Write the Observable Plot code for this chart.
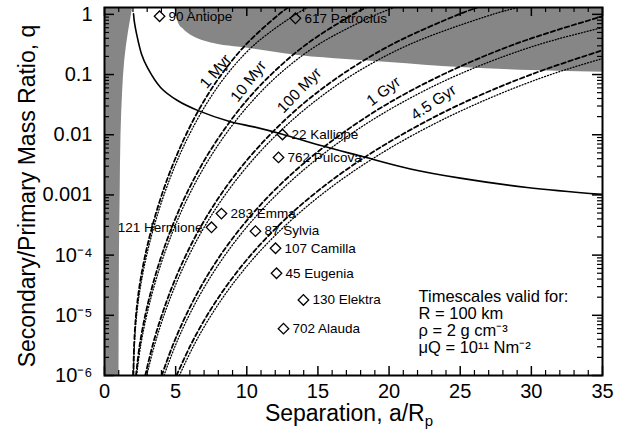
<!DOCTYPE html>
<html>
<head>
<meta charset="utf-8">
<script src="https://cdn.jsdelivr.net/npm/d3@7"></script>
<script src="https://cdn.jsdelivr.net/npm/@observablehq/plot@0.6"></script>
<style>
html,body{margin:0;padding:0;background:#fff;}
#chart svg{display:block;}
</style>
</head>
<body>
<div id="chart"></div>
<script>
// ---------------- data ----------------
const qGrid = [1e-6, 3.16e-6, 1e-5, 3.16e-5, 1e-4, 3.16e-4, 1e-3, 3.16e-3, 0.01, 0.0316, 0.1, 0.316, 1, 1.3];

const timescaleNames = ["1 Myr", "10 Myr", "100 Myr", "1 Gyr", "4.5 Gyr"];

// separation a/Rp of each curve at the q values of qGrid
const dashed1Myr   = [2.028, 2.081, 2.213, 2.469, 2.863, 3.381, 4.022, 4.797, 5.728, 6.837, 8.216, 9.944, 12.259, 12.902];
const dashed10Myr  = [2.213, 2.469, 2.863, 3.381, 4.022, 4.796, 5.724, 6.832, 8.162, 9.743, 11.708, 14.171, 17.471, 18.387];
const dashed100Myr = [2.863, 3.381, 4.022, 4.796, 5.724, 6.832, 8.156, 9.736, 11.632, 13.885, 16.686, 20.195, 24.897, 26.203];
const dashed1Gyr   = [4.022, 4.796, 5.724, 6.832, 8.156, 9.736, 11.623, 13.878, 16.576, 19.788, 23.779, 28.780, 35.481, 37.34];
const dashed4_5Gyr = [5.063, 6.043, 7.213, 8.610, 10.279, 12.271, 14.650, 17.491, 20.891, 24.939, 29.969, 36.273];

const dotted1Myr   = [2.035, 2.101, 2.256, 2.543, 2.964, 3.509, 4.178, 4.985, 5.956, 7.132, 8.598, 10.552, 13.434, 14.291];
const dotted10Myr  = [2.256, 2.543, 2.964, 3.509, 4.178, 4.983, 5.947, 7.102, 8.487, 10.164, 12.253, 15.037, 19.146, 20.367];
const dotted100Myr = [2.964, 3.509, 4.178, 4.983, 5.947, 7.098, 8.475, 10.12, 12.094, 14.484, 17.462, 21.431, 27.284, 29.03];
const dotted1Gyr   = [4.178, 4.983, 5.947, 7.098, 8.473, 10.116, 12.077, 14.422, 17.235, 20.642, 24.886, 30.540, 38.882];
const dotted4_5Gyr = [5.260, 6.278, 7.494, 8.946, 10.679, 12.749, 15.222, 18.177, 21.722, 26.015, 31.364, 38.49];

// grey region on the left (contact)
const leftBoundQ   = [1e-6, 1e-4, 1e-3, 0.01, 0.05, 0.17, 0.5, 1, 1.3];
const leftBoundSep = [1.02, 1.05, 1.1, 1.16, 1.27, 1.42, 1.68, 1.9, 1.97];

// grey region at the top right
const topBoundSep = [4.95, 5.05, 5.2, 5.5, 5.85, 6.3, 7, 8, 9.5, 11.5, 13.8, 17, 20, 25, 30, 35];
const topBoundQ   = [1.3, 0.95, 0.72, 0.58, 0.49, 0.42, 0.36, 0.315, 0.283, 0.245, 0.205, 0.178, 0.159, 0.131, 0.117, 0.109];

// solid curve
const solidSep = [2.04, 2.1, 2.25, 2.6, 3.02, 3.94, 5.13, 6.54, 8.85, 10.5, 12.5, 15, 18.2, 21.5, 25, 29.7, 35];
const solidQ   = [1.02, 0.75, 0.48, 0.22, 0.13, 0.061, 0.037, 0.0254, 0.0165, 0.0135, 0.0102, 0.0068, 0.0043, 0.0027, 0.0019, 0.00133, 0.00102];

// binary asteroids
const asteroidNames = ["90 Antiope", "617 Patroclus", "22 Kalliope", "762 Pulcova", "283 Emma", "121 Hermione", "87 Sylvia", "107 Camilla", "45 Eugenia", "130 Elektra", "702 Alauda"];
const asteroidSep   = [3.87, 13.42, 12.51, 12.23, 8.22, 7.52, 10.61, 12.02, 12.09, 13.98, 12.58];
const asteroidQ     = [0.93, 0.86, 0.0101, 0.0042, 4.9e-4, 2.9e-4, 2.5e-4, 1.3e-4, 5.0e-5, 1.8e-5, 6.0e-6];

// timescale label anchors
const labelSep   = [7.80, 10.12, 13.70, 19.61, 23.12];
const labelQ     = [0.113, 0.0771, 0.0546, 0.0525, 0.0345];
const labelAngle = [-50, -52, -46, -37, -34];

// axes
const xMajor = [0, 5, 10, 15, 20, 25, 30, 35];
const yMajor = [1e-6, 1e-5, 1e-4, 1e-3, 1e-2, 1e-1, 1];
const yTickLabels = ["10\u207B\u2076", "10\u207B\u2075", "10\u207B\u2074", "0.001", "0.01", "0.1", "1"];
const infoLines = ["Timescales valid for:", "R = 100 km", "\u03C1 = 2 g cm\u207B\u00B3", "\u03BCQ = 10\u00B9\u00B9 Nm\u207B\u00B2"];

// ---------------- build tables ----------------
const dashedSets = [dashed1Myr, dashed10Myr, dashed100Myr, dashed1Gyr, dashed4_5Gyr];
const dottedSets = [dotted1Myr, dotted10Myr, dotted100Myr, dotted1Gyr, dotted4_5Gyr];
const toRows = (sets) => sets.flatMap((arr, k) => arr.map((x, i) => ({x, q: qGrid[i], id: timescaleNames[k]})));
const dashedRows = toRows(dashedSets);
const dottedRows = toRows(dottedSets);
const leftRows = leftBoundQ.map((q, i) => ({q, x: leftBoundSep[i]}));
const topRows = topBoundSep.map((x, i) => ({x, q: topBoundQ[i]}));
const solidRows = solidSep.map((x, i) => ({x, q: solidQ[i]}));
const astRows = asteroidNames.map((name, i) => ({name, x: asteroidSep[i], q: asteroidQ[i]}));
const labelRows = timescaleNames.map((name, i) => ({name, x: labelSep[i], q: labelQ[i], a: labelAngle[i]}));
const xMinor = d3.range(0, 36).filter(v => v % 5 !== 0);
const yMinor = [];
for (let e = -6; e <= 0; e++) for (let m = 2; m <= 9; m++) { const v = m * Math.pow(10, e); if (v <= 1.3) yMinor.push(v); }
const yLabelMap = new Map(yMajor.map((v, i) => [v, yTickLabels[i]]));

const W = 627, H = 433, mL = 104, mR = 25, mT = 7, mB = 58;
const fw = W - mL - mR, fh = H - mT - mB;
const grey = "#868686";
const FONT = "Liberation Sans";

const chart = Plot.plot({
  width: W, height: H,
  marginLeft: mL, marginRight: mR, marginTop: mT, marginBottom: mB,
  style: {fontFamily: FONT, fontSize: "20px", background: "white", color: "black", overflow: "visible"},
  x: {domain: [0, 35]},
  y: {type: "log", domain: [1e-6, 1.3]},
  marks: [
    Plot.areaX(leftRows, {y: "q", x1: d => 0, x2: "x", fill: grey, curve: "monotone-y"}),
    Plot.areaY(topRows, {x: "x", y1: "q", y2: d => 1.3, fill: grey, curve: "monotone-x"}),
    Plot.line(dashedRows, {x: "x", y: "q", z: "id", stroke: "black", strokeWidth: 1.8, strokeDasharray: "4.5,2.8", curve: "catmull-rom", clip: true}),
    Plot.line(dottedRows, {x: "x", y: "q", z: "id", stroke: "black", strokeWidth: 1.3, strokeDasharray: "1,2", curve: "catmull-rom", clip: true}),
    Plot.line(solidRows, {x: "x", y: "q", stroke: "black", strokeWidth: 1.6, curve: "catmull-rom", clip: true}),
    // ticks (inward, on all four sides)
    Plot.tickX(xMajor, {x: d => d, insetTop: fh - 9, strokeWidth: 1.5}),
    Plot.tickX(xMinor, {x: d => d, insetTop: fh - 5, strokeWidth: 1.2}),
    Plot.tickX(xMajor, {x: d => d, insetBottom: fh - 9, strokeWidth: 1.5}),
    Plot.tickX(xMinor, {x: d => d, insetBottom: fh - 5, strokeWidth: 1.2}),
    Plot.tickY(yMajor, {y: d => d, insetRight: fw - 10, strokeWidth: 1.5}),
    Plot.tickY(yMinor, {y: d => d, insetRight: fw - 5, strokeWidth: 1.2}),
    Plot.tickY(yMajor, {y: d => d, insetLeft: fw - 10, strokeWidth: 1.5}),
    Plot.tickY(yMinor, {y: d => d, insetLeft: fw - 5, strokeWidth: 1.2}),
    Plot.frame({stroke: "black", strokeWidth: 2}),
    Plot.axisX({ticks: xMajor, tickSize: 0, tickPadding: 8, tickFormat: d => String(d), label: null, fontSize: 20}),
    Plot.axisY({ticks: yMajor, tickSize: 0, tickPadding: 12, tickFormat: d => yLabelMap.get(d), label: null, fontSize: 20}),
    // asteroids
    Plot.dot(astRows, {x: "x", y: "q", symbol: "square", r: 4.2, rotate: 45, stroke: "black", fill: "none", strokeWidth: 1.3}),
    Plot.text(astRows.filter(d => d.name !== "121 Hermione"), {x: "x", y: "q", text: "name", textAnchor: "start", dx: 9, fontSize: 13.5}),
    Plot.text(astRows.filter(d => d.name === "121 Hermione"), {x: "x", y: "q", text: "name", textAnchor: "end", dx: -9, fontSize: 13.5}),
    // timescale labels
    Plot.text(labelRows, {x: "x", y: "q", text: "name", rotate: "a", fontSize: 15.5}),
    // info box
    Plot.text([infoLines.join("\n")], {text: d => d, frameAnchor: "bottom-left", dx: 314, dy: -85, lineAnchor: "top", textAnchor: "start", fontSize: 16.5, lineHeight: 1.02})
  ]
});

document.getElementById("chart").appendChild(chart);

// axis titles (with subscript)
const svg = d3.select(chart);
svg.append("text")
  .attr("transform", "translate(35,196) rotate(-90)")
  .attr("text-anchor", "middle")
  .attr("font-family", FONT).attr("font-size", 23).attr("fill", "black")
  .text("Secondary/Primary Mass Ratio, q");
const xt = svg.append("text")
  .attr("x", 349).attr("y", 421)
  .attr("text-anchor", "middle")
  .attr("font-family", FONT).attr("font-size", 23).attr("fill", "black");
xt.append("tspan").text("Separation, a/R");
xt.append("tspan").attr("font-size", 15).attr("dy", 5).text("p");
</script>
</body>
</html>
